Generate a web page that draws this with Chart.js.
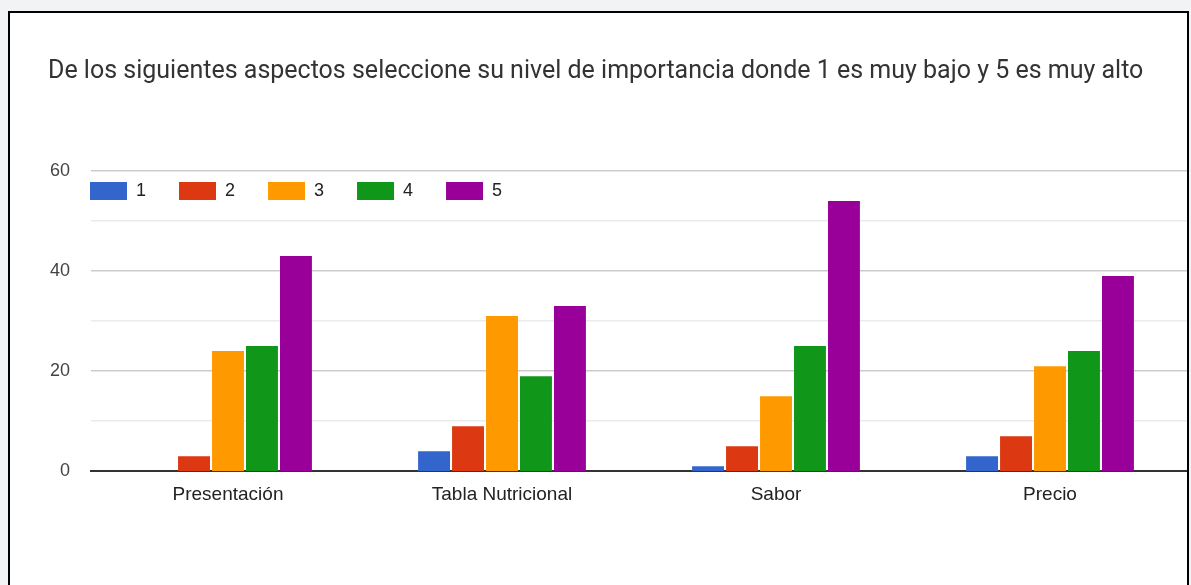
<!DOCTYPE html>
<html>
<head>
<meta charset="utf-8">
<script src="https://cdn.jsdelivr.net/npm/chart.js@4"></script>
<style>
  html, body { margin: 0; padding: 0; background: #f2f3f5; overflow: hidden; }
  #frame {
    position: absolute; left: 8px; top: 11px;
    width: 1177px; height: 600px;
    border: 2px solid #000; background: #fff;
  }
  #chart { display: block; }
</style>
</head>
<body>
<div id="frame"><canvas id="chart" width="1177" height="572"></canvas></div>
<script>
  const titleText = 'De los siguientes aspectos seleccione su nivel de importancia donde 1 es muy bajo y 5 es muy alto';
  const aspects = ['Presentación', 'Tabla Nutricional', 'Sabor', 'Precio'];
  const levels = ['1', '2', '3', '4', '5'];
  const colors = ['#3366cc', '#dc3912', '#ff9900', '#109618', '#990099'];

  // votes per level, one array per level, in the order of aspects
  const level1 = [0, 4, 1, 3];
  const level2 = [3, 9, 5, 7];
  const level3 = [24, 31, 15, 21];
  const level4 = [25, 19, 25, 24];
  const level5 = [43, 33, 54, 39];
  const yTicks = [0, 20, 40, 60];

  const series = [level1, level2, level3, level4, level5];

  // legend is laid out on top, then moved inside the plot (top-left), like the google forms chart
  const legendInside = {
    id: 'legendInside',
    afterLayout(chart) {
      const lg = chart.legend;
      const pad = lg.options.labels.padding;
      const dx = (chart.chartArea.left - 1 - pad) - lg.left;
      const dy = (chart.chartArea.top + 11 - pad) - lg.top;
      lg.left += dx; lg.right += dx;
      lg.top += dy; lg.bottom += dy;
    }
  };

  new Chart(document.getElementById('chart'), {
    type: 'bar',
    data: {
      labels: aspects,
      datasets: series.map((vals, i) => ({
        label: levels[i],
        data: vals,
        backgroundColor: colors[i],
        borderWidth: 0,
        categoryPercentage: 0.62,
        barPercentage: 0.94
      }))
    },
    options: {
      responsive: false,
      animation: false,
      layout: { padding: { left: 38, right: 0, top: 0, bottom: 67 } },
      plugins: {
        title: {
          display: true,
          text: titleText,
          align: 'start',
          color: '#333',
          font: { family: 'Roboto', size: 25, weight: 'normal' },
          padding: { top: 44, bottom: 23 }
        },
        legend: {
          position: 'top',
          align: 'start',
          labels: {
            boxWidth: 37,
            boxHeight: 18,
            padding: 33,
            color: '#222',
            font: { family: 'Arial', size: 18 }
          }
        },
        tooltip: { enabled: false }
      },
      scales: {
        x: {
          grid: { display: false, drawTicks: false },
          border: { display: true, color: '#333', width: 2 },
          ticks: { color: '#222', padding: 12, font: { family: 'Arial', size: 19 } }
        },
        y: {
          min: 0,
          max: 60,
          afterFit: scale => { scale.width = 43; },
          border: { display: false },
          grid: {
            drawTicks: false,
            color: ctx => ctx.tick.value === 0 ? '#333' : (yTicks.includes(ctx.tick.value) ? '#cccccc' : '#ebebeb'),
            lineWidth: ctx => ctx.tick.value === 0 ? 0 : 1.5
          },
          ticks: {
            stepSize: 10,
            padding: 21,
            color: '#444',
            font: { family: 'Arial', size: 18 },
            callback: v => yTicks.includes(v) ? v : ''
          }
        }
      }
    },
    plugins: [legendInside]
  });
</script>
</body>
</html>
